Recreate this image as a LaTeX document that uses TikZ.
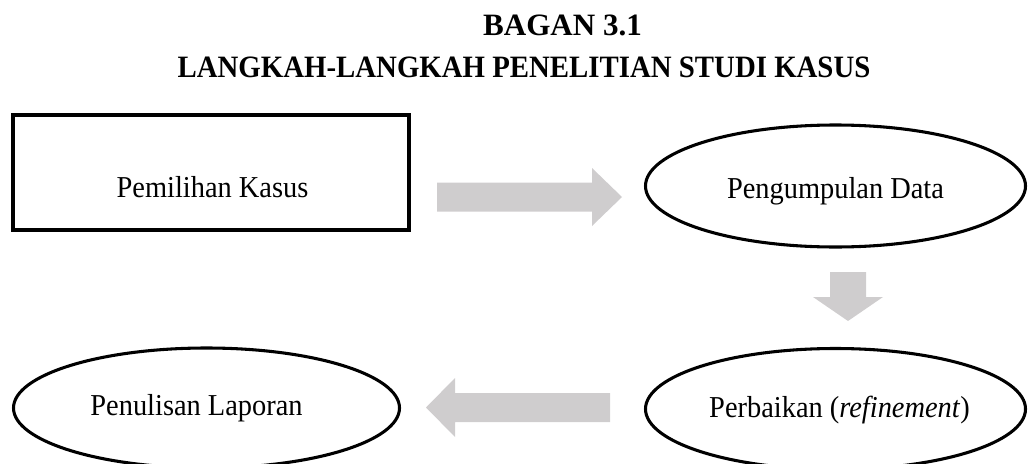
\documentclass[tikz,border=0pt]{standalone}
\usepackage{fontspec}
\setmainfont{Liberation Serif}
\usetikzlibrary{shapes.geometric}
\definecolor{blockgray}{RGB}{207,205,206}
\newcommand{\talltext}[1]{\scalebox{1}[1.07]{#1}}
\tikzset{
  stepbox/.style={draw=black, line width=3pt, rectangle, inner sep=0pt},
  stepoval/.style={draw=black, line width=2.3pt, ellipse, inner sep=0pt},
  steplabel/.style={anchor=base, inner sep=0pt, font=\fontsize{21.3pt}{25pt}\selectfont},
  headline/.style={anchor=base, inner sep=0pt, font=\fontsize{23.3pt}{28pt}\selectfont\bfseries},
  blockarrow/.style={fill=blockgray, draw=none}
}
\begin{document}
\begin{tikzpicture}[x=0.75pt, y=-0.75pt]
  \useasboundingbox (0,0) rectangle (1028,464);
  \clip (0,0) rectangle (1028,464);

  % heading (second line set slightly condensed)
  \node[headline] (head1) at (562.5,36) {BAGAN 3.1};
  \node[headline] (head2) at (524,77) {\scalebox{0.928}[1]{LANGKAH-LANGKAH PENELITIAN STUDI KASUS}};

  % steps
  \node[stepbox, minimum width=396*0.75pt, minimum height=115*0.75pt] (choice) at (211,172.5) {};
  \node[stepoval, minimum width=380*0.75pt, minimum height=122*0.75pt] (collect) at (835.5,186) {};
  \node[stepoval, minimum width=380*0.75pt, minimum height=121*0.75pt] (refine) at (835.5,409) {};
  \node[stepoval, minimum width=386*0.75pt, minimum height=120*0.75pt] (report) at (206.5,408) {};

  \node[steplabel] (choiceText) at (212.5,197) {\talltext{Pemilihan Kasus}};
  \node[steplabel] (collectText) at (835.5,198) {\talltext{Pengumpulan Data}};
  \node[steplabel] (refineText) at (839.5,417) {\talltext{Perbaikan (\textit{refinement})}};
  \node[steplabel] (reportText) at (196.5,415) {\talltext{Penulisan Laporan}};

  % block arrows between the steps
  \coordinate (a1) at (437,197);
  \coordinate (a2) at (848,272);
  \coordinate (a3) at (610,407.5);
  \fill[blockarrow] (a1) ++(0,-14.5) -- ++(155,0) -- ++(0,-14.5) -- ++(30,29)
    -- ++(-30,29) -- ++(0,-14.5) -- ++(-155,0) -- cycle;
  \fill[blockarrow] (a2) ++(-18,0) -- ++(36,0) -- ++(0,25) -- ++(17,0) -- ++(-35,24)
    -- ++(-35,-24) -- ++(17,0) -- cycle;
  \fill[blockarrow] (a3) ++(0,-14.5) -- ++(-155,0) -- ++(0,-15) -- ++(-29,29.5)
    -- ++(29,29.5) -- ++(0,-15) -- ++(155,0) -- cycle;
\end{tikzpicture}
\end{document}
